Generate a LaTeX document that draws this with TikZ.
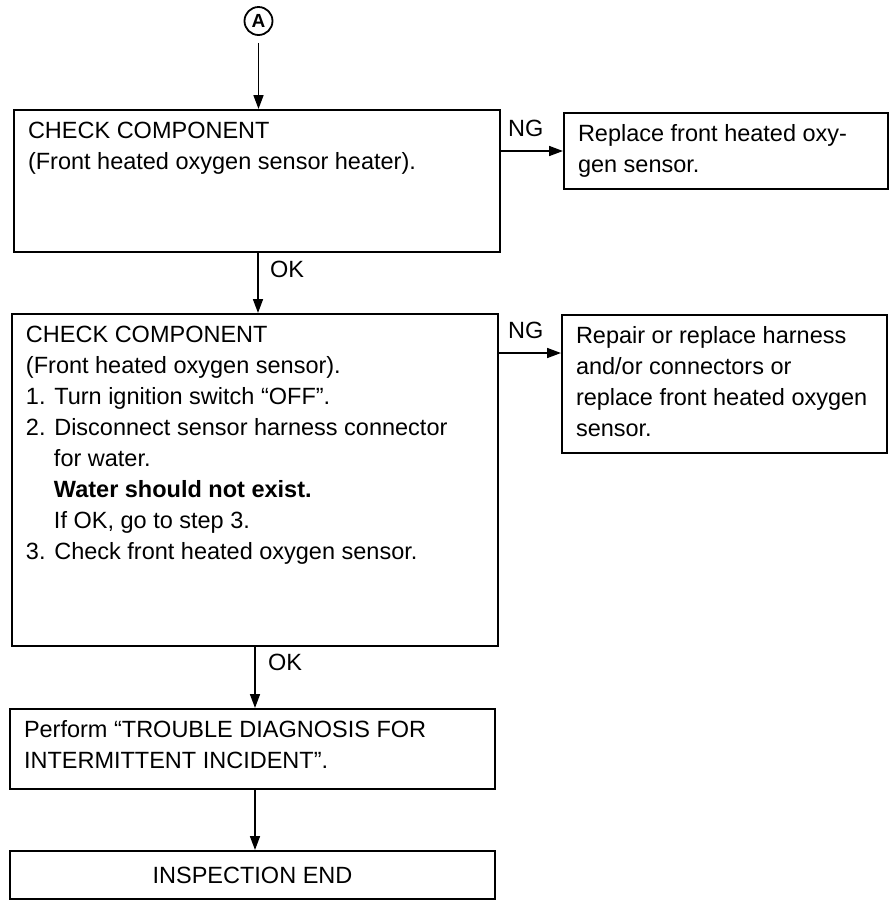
\documentclass[tikz,border=0pt]{standalone}
\usepackage{fontspec}
\setmainfont{Liberation Sans}
\usetikzlibrary{arrows.meta}
\newcommand\bxtext[3]{\parbox[c][#2][t]{#1}{\raggedright\leftskip=14pt\baselineskip=31pt\rule{0pt}{28pt}#3}}
\begin{document}
\begin{tikzpicture}[x=1pt,y=-1pt,
  txt/.style={font=\fontsize{23.5}{31}\selectfont},
  box/.style={draw, line width=2pt, inner sep=0pt, anchor=north west, txt},
  conn/.style={line width=1.6pt, -{Triangle[length=14pt,width=10pt]}},
  lbl/.style={anchor=base west, inner sep=0pt, txt}]
\useasboundingbox (0,0) rectangle (896,906);
\node[circle, draw, line width=1.8pt, minimum size=28pt, inner sep=0pt, font=\bfseries\fontsize{19}{19}\selectfont] (A) at (258.5,21) {A};
\node[box] (b1) at (13,109) {\bxtext{486pt}{142pt}{CHECK COMPONENT\\(Front heated oxygen sensor heater).}};
\node[box] (b2) at (563,112) {\bxtext{324pt}{76pt}{Replace front heated oxy-\\gen sensor.}};
\node[box] (b3) at (11,313) {\bxtext{486pt}{332pt}{CHECK COMPONENT\\(Front heated oxygen sensor).\\1. Turn ignition switch “OFF”.\\2. Disconnect sensor harness connector\\\hspace*{28pt}for water.\\\hspace*{28pt}\textbf{Water should not exist.}\\\hspace*{28pt}If OK, go to step 3.\\3. Check front heated oxygen sensor.}};
\node[box] (b4) at (561,314) {\bxtext{325pt}{138pt}{Repair or replace harness\\and/or connectors or\\replace front heated oxygen\\sensor.}};
\node[box] (b5) at (9,708) {\bxtext{485pt}{80pt}{Perform “TROUBLE DIAGNOSIS FOR\\INTERMITTENT INCIDENT”.}};
\node[box, anchor=north west, minimum width=485pt, minimum height=48pt] (b6) at (9,850) {INSPECTION END};
\coordinate (p4) at ([yshift=-39pt]b4.north west);
\draw[conn, shorten <=7pt] (A) -- (A |- b1.north);
\draw[conn] (b1.east |- b2.west) -- (b2.west);
\draw[conn] ([xshift=1pt]b1.south) -- ([xshift=1pt]b1.south |- b3.north);
\draw[conn] (b3.east |- p4) -- (p4);
\draw[conn] (b3.south) -- (b3.south |- b5.north);
\draw[conn] ([xshift=2.5pt]b5.south) -- ([xshift=2.5pt]b5.south |- b6.north);
\node[lbl] (ng1) at (508,136) {NG};
\node[lbl] (ok1) at (270,277) {OK};
\node[lbl] (ng2) at (508,338) {NG};
\node[lbl] (ok2) at (268,670) {OK};
\end{tikzpicture}
\end{document}
